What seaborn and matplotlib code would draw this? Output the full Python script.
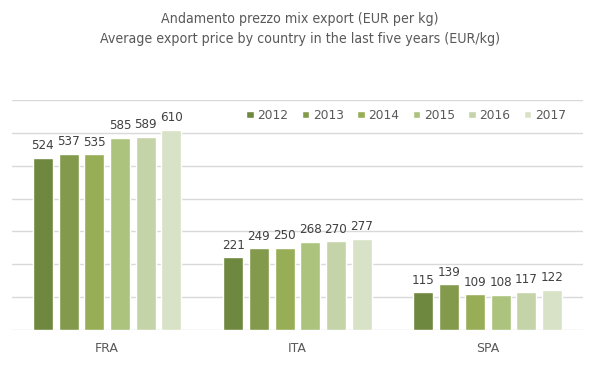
import pandas as pd
import matplotlib.pyplot as plt
import seaborn as sns

countries = ["FRA", "ITA", "SPA"]
years = ["2012", "2013", "2014", "2015", "2016", "2017"]
fra = [524, 537, 535, 585, 589, 610]
ita = [221, 249, 250, 268, 270, 277]
spa = [115, 139, 109, 108, 117, 122]
colors = ["#6F8840", "#839A4C", "#97AE57", "#ABC37C", "#C4D3A8", "#D8E2C7"]

rows = []
for c, vals in zip(countries, [fra, ita, spa]):
    for y, v in zip(years, vals):
        rows.append({"country": c, "year": y, "price": v})
df = pd.DataFrame(rows)

sns.set_style("white")
plt.rcParams["font.family"] = ["DejaVu Sans"]
txt = "#595959"

fig = plt.figure(figsize=(5.99, 3.78), dpi=100)
ax = fig.add_axes([0.02, 0.127, 0.953, 0.608])

sns.barplot(data=df, x="country", y="price", hue="year", order=countries,
            hue_order=years, palette=dict(zip(years, colors)),
            width=0.81, gap=0.22, ax=ax, saturation=1)

# data labels above each bar
for cont in ax.containers:
    ax.bar_label(cont, fmt="%d", padding=4, fontsize=9.5, fontstretch="condensed",
                 color="#404040")

ax.set_ylim(0, 700)
ax.set_yticks(range(0, 701, 100))
ax.set_yticklabels([])
ax.yaxis.grid(True, color="#D9D9D9", linewidth=1)
ax.set_axisbelow(True)
for s in ax.spines.values():
    s.set_visible(False)
ax.tick_params(axis="both", length=0)
ax.tick_params(axis="x", labelsize=9, labelcolor=txt, pad=9)
ax.set_xlabel("")
ax.set_ylabel("")

handles, labels = ax.get_legend_handles_labels()
ax.legend(handles, labels, loc="center", bbox_to_anchor=(0.678, 0.695),
          bbox_transform=fig.transFigure, ncol=6, frameon=False,
          fontsize=8.8, labelcolor=txt, handlelength=0.6, handleheight=0.6,
          handletextpad=0.3, columnspacing=1.1)

fig.text(0.5, 0.95, "Andamento prezzo mix export (EUR per kg)", ha="center",
         va="center", fontsize=10.2, color=txt, fontstretch="condensed")
fig.text(0.5, 0.898, "Average export price by country in the last five years (EUR/kg)",
         ha="center", va="center", fontsize=10.2, color=txt, fontstretch="condensed")

fig.savefig("out.png", dpi=100)
